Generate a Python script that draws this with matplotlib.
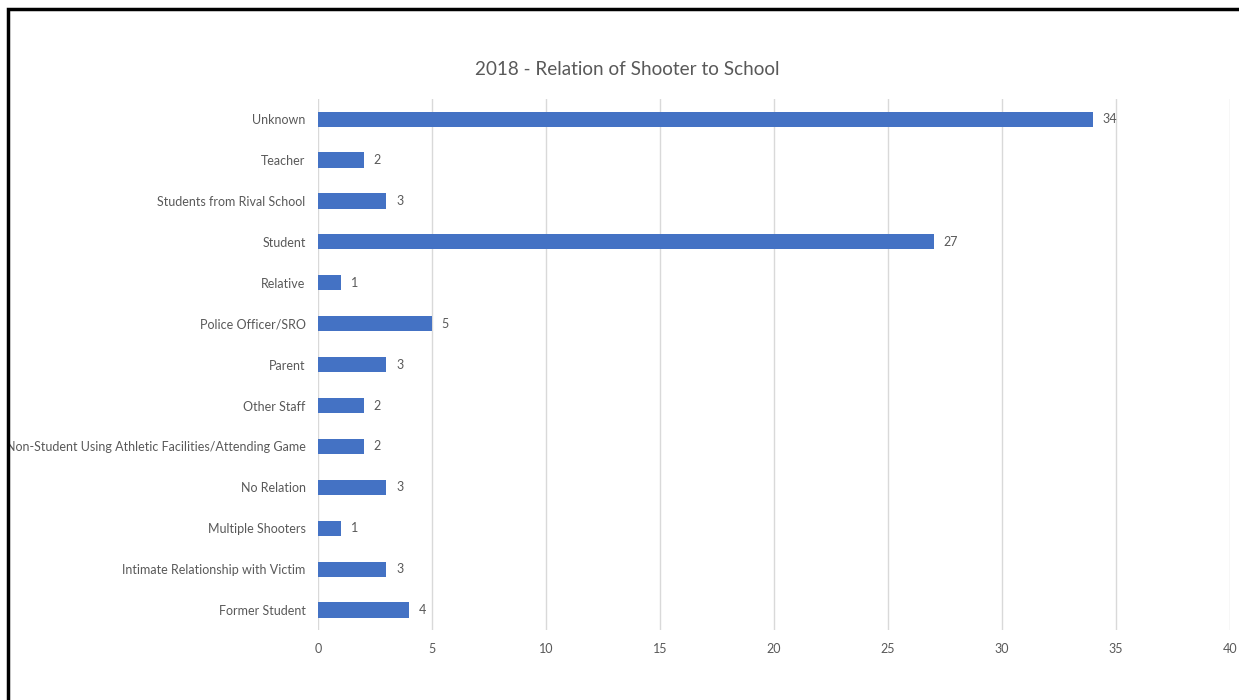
import matplotlib.pyplot as plt
from matplotlib.patches import Rectangle

categories = [
    "Former Student",
    "Intimate Relationship with Victim",
    "Multiple Shooters",
    "No Relation",
    "Non-Student Using Athletic Facilities/Attending Game",
    "Other Staff",
    "Parent",
    "Police Officer/SRO",
    "Relative",
    "Student",
    "Students from Rival School",
    "Teacher",
    "Unknown",
]
counts = [4, 3, 1, 3, 2, 2, 3, 5, 1, 27, 3, 2, 34]
x_ticks = [0, 5, 10, 15, 20, 25, 30, 35, 40]

bar_color = "#4472C4"
text_color = "#595959"
grid_color = "#D9D9D9"

plt.rcParams['font.family'] = ['Lato', 'DejaVu Sans']

fig = plt.figure(figsize=(12.39, 7), dpi=100)
ax = fig.add_axes([0.2567, 0.0993, 0.736, 0.7597])

ypos = range(len(categories))
ax.barh(ypos, counts, height=0.37, color=bar_color, zorder=3)

for y, v in zip(ypos, counts):
    ax.annotate(str(v), (v, y), xytext=(7, 0), textcoords="offset points",
                va="center", ha="left", fontsize=9, color=text_color)

ax.set_xlim(0, 40)
ax.set_ylim(-0.5, len(categories) - 0.5)
ax.set_xticks(x_ticks)
ax.set_yticks(list(ypos))
ax.set_yticklabels(categories)
ax.tick_params(axis="both", length=0, labelsize=9, colors=text_color)
ax.tick_params(axis="x", pad=9)
ax.tick_params(axis="y", pad=9)
ax.grid(axis="x", color=grid_color, linewidth=1, zorder=0)
for s in ax.spines.values():
    s.set_visible(False)

fig.text(0.506, 0.901, "2018 - Relation of Shooter to School", ha="center",
         va="center", fontsize=13.6, color=text_color)

# black frame around the chart (cut off at right and bottom)
fig.patches.append(Rectangle((8 / 1239, -0.05), 1.2, 1.05 - 9 / 700,
                             transform=fig.transFigure, fill=False,
                             edgecolor="black", linewidth=2.5))

fig.savefig("out.png", dpi=100)
